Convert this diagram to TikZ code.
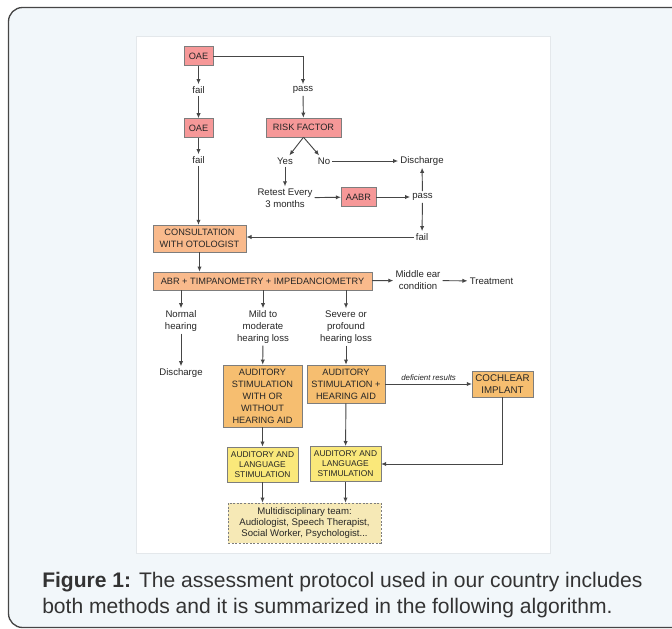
\documentclass[tikz,border=0pt]{standalone}
\usepackage{fontspec}
\setmainfont{Liberation Sans}
\usepackage{tikz}
\usetikzlibrary{arrows.meta}

\definecolor{framefill}{RGB}{242,247,250}
\definecolor{framedraw}{RGB}{70,70,70}
\definecolor{panelline}{RGB}{228,232,235}
\definecolor{boxline}{RGB}{125,125,125}
\definecolor{linecol}{RGB}{70,70,70}
\definecolor{redfill}{RGB}{246,152,152}
\definecolor{orfill}{RGB}{249,186,140}
\definecolor{amfill}{RGB}{246,190,112}
\definecolor{ylfill}{RGB}{250,232,122}
\definecolor{teamfill}{RGB}{246,233,182}

\begin{document}
\begin{tikzpicture}[x=0.75pt,y=-0.75pt]
\tikzset{every node/.style={font=\fontsize{7.2}{9}\selectfont,align=center,inner sep=1.5pt,text=black!85},
  redbox/.style={draw=boxline,fill=redfill,font=\fontsize{6.9}{9}\selectfont,minimum height=14.2pt,inner sep=1pt},
  orbox/.style={draw=boxline,fill=orfill,font=\fontsize{6.9}{9}\selectfont,inner sep=1pt},
  ambox/.style={draw=boxline,fill=amfill,font=\fontsize{6.9}{9}\selectfont,inner sep=1pt},
  ylbox/.style={draw=boxline,fill=ylfill,font=\fontsize{6.3}{7.5}\selectfont,inner sep=1pt,minimum width=53pt,minimum height=26.5pt},
  teambox/.style={draw=boxline,fill=teamfill,dash pattern=on 1.5pt off 1.2pt,font=\fontsize{7.2}{8.6}\selectfont},
  arr/.style={draw=linecol,line width=0.7pt,-{Latex[length=3.8pt,width=3.2pt]}},
  every edge/.style={arr}}

\useasboundingbox (0,0) rectangle (672,629);
% frame and panel
\draw[framedraw,fill=framefill,line width=1pt,rounded corners=10.5pt] (8.5,7.5) rectangle (720,627.5);
\fill[white,draw=panelline] (136,36) rectangle (550,553);

% screening
\node (oae1) at (198.5,56) [redbox,minimum width=21.5pt] {OAE};
\node (fail1) at (198.5,90) {fail};
\node (oae2) at (198.5,128) [redbox,minimum width=21.5pt] {OAE};
\node (fail2) at (198.5,160) {fail};
\node (pass1) at (303,90) {pass};
\node (risk) at (303.5,127.5) [redbox,minimum width=56pt] {RISK FACTOR};
\node (yes) at (285,161) {Yes};
\node (no) at (324,161) {No};
\node (dis1) at (422,161) {Discharge};
\node (retest) at (285,198) {Retest Every\\3 months};
\node (aabr) at (358.5,197) [redbox,minimum width=26pt] {AABR};
\node (pass2) at (422.5,197) {pass};
\node (fail3) at (422,237) {fail};

% diagnosis
\node (cons) at (199.5,238.5) [orbox,minimum width=70pt,minimum height=20pt] {CONSULTATION\\WITH OTOLOGIST};
\node (abr) at (262.5,281) [orbox,minimum width=164pt,minimum height=13.5pt] {ABR + TIMPANOMETRY + IMPEDANCIOMETRY};
\node (mid) at (418,280.5) {Middle ear\\condition};
\node (treat) at (491.5,281) {Treatment};
\node (normal) at (181,321) {Normal\\hearing};
\node (mild) at (263,327) {Mild to\\moderate\\hearing loss};
\node (severe) at (346,327) {Severe or\\profound\\hearing loss};
\node (dis2) at (181,373) {Discharge};

% treatment
\node (asw) at (262.5,396) [ambox,minimum width=59pt,minimum height=46.5pt] {AUDITORY\\STIMULATION\\WITH OR\\WITHOUT\\HEARING AID};
\node (ash) at (346,384) [ambox,minimum width=58.5pt,minimum height=28.5pt] {AUDITORY\\STIMULATION +\\HEARING AID};
\node (ci) at (502.5,384) [ambox,minimum width=45.5pt,minimum height=19.5pt,font=\fontsize{7.3}{9}\selectfont] {COCHLEAR\\IMPLANT};
\node (als1) at (262.5,464.5) [ylbox] {AUDITORY AND\\LANGUAGE\\STIMULATION};
\node (als2) at (345.5,464) [ylbox] {AUDITORY AND\\LANGUAGE\\STIMULATION};
\node (team) at (304.5,523) [teambox,minimum width=114.5pt,minimum height=30pt] {Multidisciplinary team:\\Audiologist, Speech Therapist,\\Social Worker, Psychologist...};

\path
(oae1) edge (fail1)
(fail1) edge (oae2)
(oae2) edge (fail2)
(pass1) edge (risk)
(risk.south) edge (yes)
(risk.south) edge (no)
(no) edge (dis1)
(yes) edge (retest)
(retest) edge (aabr)
(aabr) edge (pass2)
(pass2) edge (dis1)
(pass2) edge (fail3)
(fail3) edge (fail3 -| cons.east)
(fail2) edge (fail2 |- cons.north)
(cons) edge (cons |- abr.north)
(abr) edge (mid)
(mid) edge (treat)
(abr.south -| normal) edge (normal)
(abr.south -| mild) edge (mild)
(abr.south -| severe) edge (severe)
(normal) edge (dis2)
(mild) edge (asw)
(severe) edge (ash)
(ash) edge node[above=0.5pt,font=\fontsize{5.9}{7}\selectfont\itshape] {deficient results} (ci)
(asw) edge (als1)
(ash) edge (als2)
(als1) edge (als1 |- team.north)
(als2) edge (als2 |- team.north);
\draw[arr] (oae1) -| (pass1);
\draw[arr] (ci) |- (als2);

% caption
\node (cap1) at (42,587) [anchor=base west,font=\fontsize{15.8}{19.5}\selectfont,inner sep=0pt,text=black!80] {\textbf{Figure 1:} The assessment protocol used in our country includes};
\node (cap2) at (42,613) [anchor=base west,font=\fontsize{15.8}{19.5}\selectfont,inner sep=0pt,text=black!80] {both methods and it is summarized in the following algorithm.};
\end{tikzpicture}
\end{document}
